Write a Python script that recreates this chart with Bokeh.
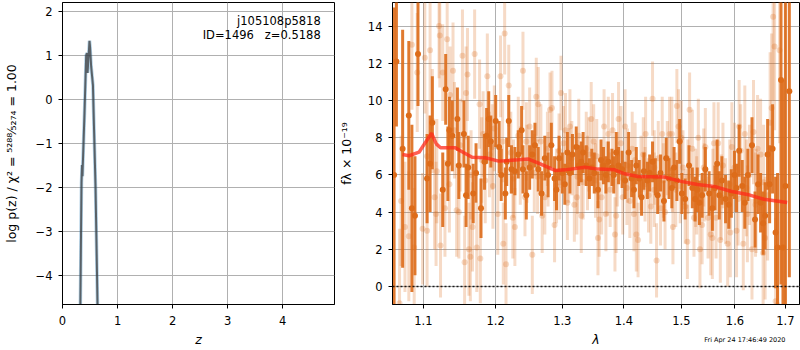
import numpy as np
from bokeh.plotting import figure
from bokeh.layouts import row
from bokeh.models import (ColumnDataSource, Range1d, FixedTicker, Label, LogAxis,
                          CustomJSTickFormatter, PrintfTickFormatter, Span)
from bokeh.embed import file_html
from bokeh.resources import INLINE

# ---------------- data ----------------
# p(z) panel
pz_z = [0.30, 0.345, 0.355, 0.362, 0.40, 0.430, 0.445, 0.455, 0.475, 0.490,
        0.500, 0.520, 0.553, 0.565, 0.600, 0.636, 0.660]
pz_logp = [-8.0, -1.9, -1.5, -1.75, -0.3, 1.0, 1.05, 0.6, 1.0, 1.33,
           1.2, 0.75, 0.32, -0.3, -2.0, -4.67, -6.5]

z_ticks = [0, 1, 2, 3, 4]
logp_ticks = [-4, -3, -2, -1, 0, 1, 2]

obj_name = "j105108p5818"
obj_info = "ID=1496\u00a0\u00a0\u00a0z=0.5188"
timestamp = "Fri Apr 24 17:46:49 2020"
timestamp_lam = [1.619]

# spectrum panel: binned spectrum (dark)
dark_lam = [1.062, 1.065, 1.073, 1.081, 1.085, 1.089, 1.093, 1.105, 1.109, 1.112,
            1.126, 1.130, 1.133, 1.135, 1.139, 1.146, 1.148, 1.155, 1.158, 1.161,
            1.168, 1.172, 1.179, 1.184, 1.187, 1.190, 1.193, 1.200, 1.205, 1.208,
            1.214, 1.216, 1.219, 1.223, 1.228, 1.233, 1.238, 1.240, 1.245, 1.250,
            1.254, 1.258, 1.263, 1.268, 1.273, 1.278, 1.283, 1.288, 1.291, 1.295,
            1.300, 1.304, 1.308, 1.312, 1.316, 1.322, 1.326, 1.330, 1.333, 1.338,
            1.343, 1.347, 1.351, 1.357, 1.362, 1.366, 1.370, 1.374, 1.380, 1.383,
            1.387, 1.391, 1.397, 1.402, 1.408, 1.413, 1.417, 1.421, 1.426, 1.430,
            1.434, 1.440, 1.444, 1.449, 1.454, 1.458, 1.463, 1.469, 1.473, 1.478,
            1.483, 1.487, 1.492, 1.497, 1.501, 1.507, 1.514, 1.520, 1.525, 1.529,
            1.533, 1.538, 1.544, 1.551, 1.557, 1.562, 1.566, 1.570, 1.575, 1.582,
            1.588, 1.593, 1.599, 1.603, 1.608, 1.614, 1.619, 1.625, 1.633, 1.639,
            1.645, 1.650, 1.655, 1.659, 1.664, 1.668, 1.674, 1.680, 1.684, 1.691,
            1.695, 1.700, 1.708]
dark_flux = [6.0, 12.1, 7.4, 9.2, 4.2, 3.8, 12.5, 5.8, 6.6, 8.8,
             5.2, 10.6, 6.6, 8.4, 8.1, 9.0, 6.5, 8.2, 4.9, 6.4,
             5.0, 6.1, 4.2, 6.7, 8.1, 9.0, 7.8, 8.9, 7.5, 6.0,
             5.0, 6.7, 8.9, 6.3, 6.2, 7.1, 8.4, 6.3, 4.9, 6.4,
             7.1, 7.6, 6.3, 5.0, 6.9, 6.0, 7.6, 5.8, 5.2, 6.9,
             6.1, 5.5, 7.2, 6.1, 7.1, 7.5, 6.5, 6.7, 7.2, 6.5,
             5.8, 6.4, 6.1, 5.2, 6.8, 6.5, 6.0, 6.7, 6.4, 6.0,
             7.2, 6.5, 6.3, 5.7, 7.2, 5.8, 5.2, 6.5, 5.8, 4.8,
             6.2, 5.7, 6.1, 6.7, 5.9, 4.9, 6.1, 4.6, 6.9, 5.8,
             5.3, 6.4, 5.7, 7.8, 5.0, 4.7, 6.5, 5.3, 4.7, 5.2,
             4.5, 4.9, 6.3, 5.0, 4.2, 5.3, 6.6, 4.9, 5.7, 4.7,
             4.4, 5.0, 6.0, 5.3, 7.3, 5.4, 4.5, 6.0, 7.6, 3.6,
             5.5, 4.5, 3.4, 3.8, 7.1, 5.5, 7.4, 2.9, 2.1, 11.1,
             2.1, 5.4, 10.5]
dark_err = [9.0, 3.5, 6.4, 4.0, 4.5, 3.2, 2.8, 2.4, 2.6, 2.5,
            2.0, 1.9, 2.0, 1.8, 1.9, 1.7, 1.8, 1.8, 1.7, 1.7,
            1.6, 1.6, 1.6, 1.5, 1.5, 1.5, 1.4, 1.4, 1.4, 1.4,
            1.4, 1.3, 1.4, 1.3, 1.3, 1.3, 1.3, 1.3, 1.3, 1.2,
            1.3, 1.2, 1.2, 1.2, 1.2, 1.2, 1.2, 1.2, 1.1, 1.2,
            1.1, 1.1, 1.1, 1.1, 1.1, 1.1, 1.1, 1.1, 1.1, 1.1,
            1.1, 1.0, 1.1, 1.0, 1.1, 1.0, 1.0, 1.1, 1.0, 1.0,
            1.1, 1.0, 1.0, 1.0, 1.1, 1.0, 1.0, 1.0, 1.0, 1.0,
            1.0, 1.0, 1.0, 1.1, 1.0, 1.0, 1.0, 1.1, 1.1, 1.1,
            1.1, 1.1, 1.1, 1.2, 1.1, 1.1, 1.1, 1.1, 1.2, 1.2,
            1.2, 1.2, 1.2, 1.2, 1.2, 1.2, 1.3, 1.3, 1.3, 1.3,
            1.3, 1.3, 1.3, 1.3, 1.4, 1.4, 1.4, 1.4, 1.5, 1.5,
            1.6, 1.6, 1.7, 1.8, 1.9, 2.1, 2.4, 3.0, 4.0, 11.0,
            9.0, 10.0, 10.0]

# individual (light) spectrum points
light_lam = [1.069, 1.071, 1.076, 1.081, 1.085, 1.088, 1.092, 1.099, 1.102, 1.105,
             1.109, 1.112, 1.115, 1.117, 1.121, 1.122, 1.123, 1.126, 1.129, 1.132,
             1.136, 1.140, 1.142, 1.145, 1.148, 1.153, 1.156, 1.158, 1.160, 1.162,
             1.164, 1.167, 1.170, 1.173, 1.177, 1.178, 1.182, 1.185, 1.188, 1.191,
             1.195, 1.198, 1.203, 1.207, 1.211, 1.213, 1.215, 1.219, 1.222, 1.225,
             1.228, 1.233, 1.236, 1.240, 1.243, 1.245, 1.250, 1.254, 1.257, 1.260,
             1.263, 1.267, 1.269, 1.273, 1.277, 1.281, 1.284, 1.288, 1.291, 1.295,
             1.298, 1.302, 1.305, 1.308, 1.312, 1.315, 1.319, 1.323, 1.326, 1.330,
             1.333, 1.338, 1.342, 1.346, 1.350, 1.353, 1.357, 1.359, 1.363, 1.367,
             1.370, 1.374, 1.377, 1.381, 1.385, 1.387, 1.391, 1.395, 1.398, 1.402,
             1.406, 1.410, 1.414, 1.417, 1.421, 1.424, 1.429, 1.433, 1.437, 1.442,
             1.446, 1.449, 1.452, 1.456, 1.459, 1.463, 1.466, 1.471, 1.475, 1.479,
             1.483, 1.485, 1.490, 1.492, 1.495, 1.500, 1.503, 1.507, 1.511, 1.515,
             1.520, 1.523, 1.526, 1.531, 1.534, 1.538, 1.541, 1.544, 1.549, 1.554,
             1.557, 1.560, 1.564, 1.568, 1.572, 1.577, 1.582, 1.586, 1.591, 1.594,
             1.599, 1.603, 1.608, 1.611, 1.616, 1.619, 1.624, 1.628, 1.633, 1.636,
             1.641, 1.644, 1.650, 1.655, 1.659, 1.664, 1.669, 1.672, 1.675, 1.678,
             1.680, 1.684, 1.688,
             1.105, 1.118, 1.135, 1.150, 1.165, 1.180, 1.196, 1.210, 1.226, 1.246,
             1.262, 1.278, 1.296, 1.310, 1.324, 1.340, 1.355, 1.372, 1.389, 1.405,
             1.419, 1.436, 1.452, 1.468, 1.484, 1.498, 1.512, 1.528, 1.542, 1.558,
             1.574, 1.590, 1.606, 1.622, 1.640, 1.656]
light_flux = [-0.9, 4.6, 3.2, 2.7, 13.0, 2.1, 11.5, 3.1, 12.3, 3.0,
              12.7, 8.9, 4.8, 3.9, 14.0, 13.5, 2.2, 11.5, 4.2, 13.3,
              10.3, 11.6, 8.4, 4.1, 4.0, 12.4, 1.3, 10.4, 11.4, 2.0,
              1.6, 3.2, 12.5, 2.1, 9.8, 1.5, 8.2, 5.7, 11.3, 7.1,
              7.5, 8.5, 3.9, 11.3, 2.3, 13.6, 1.2, 10.8, 7.2, 3.7,
              3.2, 8.1, 6.5, 11.6, 4.8, 7.8, 8.6, 1.7, 6.1, 10.2,
              9.8, 7.8, 3.8, 4.8, 7.4, 9.5, 9.6, 3.3, 5.4, 7.3,
              10.4, 7.7, 8.4, 4.5, 8.6, 6.9, 4.4, 4.8, 8.1, 3.8,
              5.6, 7.4, 7.1, 9.0, 7.8, 5.7, 2.6, 3.6, 4.8, 8.6,
              3.9, 8.2, 5.2, 8.4, 2.8, 3.8, 9.0, 7.7, 4.8, 8.6,
              6.5, 4.6, 7.4, 3.9, 2.8, 2.5, 6.1, 7.1, 8.2, 4.9,
              4.3, 10.1, 5.2, 1.4, 6.9, 4.2, 8.2, 4.0, 6.9, 8.2,
              8.2, 3.2, 5.2, 9.7, 8.6, 8.0, 6.4, 4.3, 2.4, 9.5,
              7.4, 3.7, 5.3, 8.0, 2.0, 3.3, 6.4, 7.5, 3.7, 2.8,
              2.6, 7.7, 3.7, 7.7, 2.5, 6.5, 4.6, 2.3, 2.9, 7.5,
              6.4, 3.0, 8.6, 7.3, 2.3, 8.2, 3.9, 6.0, 2.0, 8.3,
              4.6, 7.4, 7.1, 1.8, 2.6, 4.9, 8.8, 9.6, 14.5, 12.9,
              -0.8, -1.0, 12.7,
              7.0, 6.2, 5.5, 7.6, 6.0, 6.8, 5.4, 7.8, 5.8, 6.6,
              5.9, 6.3, 5.6, 6.5, 5.9, 6.1, 7.0, 5.8, 6.3, 5.3,
              6.8, 5.5, 6.4, 5.7, 6.0, 5.4, 5.9, 4.9, 5.6, 5.2,
              4.8, 5.5, 4.7, 5.3, 4.4, 5.6]
light_err = [4.0, 3.5, 3.5, 3.5, 3.5, 3.2, 3.2, 3.0, 3.0, 3.0,
             2.8, 2.8, 2.8, 2.8, 2.8, 2.8, 2.8, 2.6, 2.6, 2.6,
             2.6, 2.6, 2.6, 2.5, 2.5, 2.5, 2.5, 2.5, 2.5, 2.5,
             2.4, 2.4, 2.4, 2.4, 2.4, 2.4, 2.3, 2.3, 2.3, 2.3,
             2.3, 2.3, 2.2, 2.2, 2.2, 2.2, 2.2, 2.2, 2.2, 2.2,
             2.1, 2.1, 2.1, 2.1, 2.1, 2.1, 2.1, 2.1, 2.1, 2.1,
             2.0, 2.0, 2.0, 2.0, 2.0, 2.0, 2.0, 2.0, 2.0, 2.0,
             2.0, 2.0, 2.0, 2.0, 2.0, 2.0, 2.0, 2.0, 2.0, 2.0,
             2.0, 2.0, 2.0, 2.0, 2.0, 2.0, 2.0, 2.0, 2.0, 2.0,
             2.0, 2.0, 2.0, 2.0, 2.0, 2.0, 2.0, 2.0, 2.0, 2.0,
             2.0, 2.0, 2.0, 2.0, 2.0, 2.0, 2.0, 2.0, 2.0, 2.0,
             2.0, 2.0, 2.0, 2.0, 2.0, 2.0, 2.0, 2.0, 2.0, 2.0,
             2.0, 2.0, 2.0, 2.0, 2.0, 2.0, 2.0, 2.0, 2.0, 2.0,
             2.1, 2.1, 2.1, 2.1, 2.1, 2.1, 2.1, 2.1, 2.2, 2.2,
             2.2, 2.2, 2.2, 2.2, 2.3, 2.3, 2.3, 2.3, 2.4, 2.4,
             2.4, 2.5, 2.5, 2.5, 2.5, 2.6, 2.6, 2.7, 2.7, 2.8,
             2.8, 2.9, 3.0, 3.1, 3.3, 3.5, 3.8, 4.0, 4.5, 4.5,
             4.5, 5.0, 5.0,
             3.0, 2.8, 2.6, 2.5, 2.4, 2.3, 2.3, 2.2, 2.1, 2.1,
             2.0, 2.0, 2.0, 2.0, 2.0, 2.0, 2.0, 2.0, 2.0, 2.0,
             2.0, 2.0, 2.0, 2.0, 2.0, 2.0, 2.0, 2.1, 2.1, 2.2,
             2.3, 2.4, 2.5, 2.6, 2.8, 3.1]

# best-fit model
model_lam = [1.0727, 1.0813, 1.0944, 1.103, 1.111, 1.1172, 1.123, 1.1433, 1.150, 1.1664,
             1.1851, 1.2043, 1.2334, 1.2482, 1.2633, 1.2887, 1.3041, 1.3357, 1.3573, 1.3846,
             1.4012, 1.4239, 1.4697, 1.4994, 1.5297, 1.5603, 1.5918, 1.6240, 1.6566, 1.7036]
model_flux = [7.1, 7.03, 7.22, 7.76, 8.24, 7.67, 7.46, 7.46, 7.3, 6.95,
              6.92, 6.74, 6.81, 6.85, 6.63, 6.24, 6.27, 6.41, 6.31, 6.27,
              6.06, 5.91, 5.88, 5.65, 5.48, 5.38, 5.12, 4.95, 4.69, 4.52]

lam_ticks = [1.1, 1.2, 1.3, 1.4, 1.5, 1.6, 1.7]
flux_ticks = [0, 2, 4, 6, 8, 10, 12, 14]

# ---------------- styling ----------------
FONT = "DejaVu Sans"
FS = "11.5px"
ORANGE = "#dd6c1a"
GRID = "#b0b0b0"

minus_fmt = CustomJSTickFormatter(
    code="return (tick < 0 ? '\u2212' : '') + Math.abs(tick).toString();")


def style(p):
    p.outline_line_color = "black"
    p.outline_line_alpha = 1.0
    p.outline_line_width = 1
    p.grid.grid_line_color = GRID
    p.grid.grid_line_width = 1
    p.background_fill_color = "white"
    p.border_fill_color = "white"
    for ax in (p.xaxis, p.yaxis):
        ax.axis_line_color = "black"
        ax.major_tick_line_color = "black"
        ax.major_tick_out = 4
        ax.major_tick_in = 0
        ax.minor_tick_line_color = None
        ax.major_label_text_font = FONT
        ax.major_label_text_font_size = FS
        ax.major_label_text_color = "black"
        ax.axis_label_text_font = FONT
        ax.axis_label_text_font_size = "12.5px"
        ax.axis_label_text_color = "black"
    p.xaxis.major_label_standoff = 7
    p.xaxis.axis_label_standoff = 4
    p.yaxis.major_label_standoff = 6


H = 350

# ---------------- left panel: p(z) ----------------
p1 = figure(width=335, height=H, x_range=Range1d(0, 4.94), y_range=Range1d(-4.67, 2.2),
            output_backend="svg", toolbar_location=None,
            min_border_left=62, min_border_right=1, min_border_top=2, min_border_bottom=46)
style(p1)
p1.xaxis.ticker = FixedTicker(ticks=z_ticks)
p1.yaxis.ticker = FixedTicker(ticks=logp_ticks)
p1.xaxis.formatter = minus_fmt
p1.yaxis.formatter = minus_fmt
p1.xaxis.axis_label = "z"
p1.xaxis.axis_label_text_font_style = "italic"
p1.yaxis.axis_label = "log p(z) / χ² = ⁵²⁸⁸⁄₅₂₇₄ = 1.00"
p1.yaxis.axis_label_text_font_style = "normal"
p1.yaxis.axis_label_standoff = 14

pz_src = ColumnDataSource(data=dict(z=pz_z, logp=pz_logp))
p1.line("z", "logp", source=pz_src, line_color="#1f77b4", line_alpha=0.35, line_width=3.5)
p1.line("z", "logp", source=pz_src, line_color="#3c3c3c", line_alpha=0.75, line_width=2)

p1.add_layout(Label(x=4.69, y=1.79, text=obj_name, text_align="right", text_baseline="middle",
                    text_font=FONT, text_font_size=FS, text_color="black"))
p1.add_layout(Label(x=4.69, y=1.47, text=obj_info, text_align="right", text_baseline="middle",
                    text_font=FONT, text_font_size=FS, text_color="black"))

# ---------------- right panel: spectrum ----------------
p2 = figure(width=465, height=H, x_axis_type="log",
            x_range=Range1d(1.06, 1.729), y_range=Range1d(-0.97, 15.27),
            output_backend="svg", toolbar_location=None,
            min_border_left=55, min_border_right=1, min_border_top=2, min_border_bottom=46)
style(p2)
p2.xaxis.ticker = FixedTicker(ticks=lam_ticks)
p2.xaxis.formatter = PrintfTickFormatter(format="%.1f")
p2.xaxis.axis_label = "λ"
p2.xaxis.axis_label_text_font_style = "italic"
p2.yaxis.ticker = FixedTicker(ticks=flux_ticks)
p2.yaxis.formatter = minus_fmt
p2.yaxis.axis_label = "fλ × 10⁻¹⁹"
p2.yaxis.axis_label_text_font_style = "normal"
p2.yaxis.axis_label_standoff = 11

# second bottom axis: only carries the timestamp as its single tick label,
# pulled up into the row of the λ label
stamp_axis = LogAxis(ticker=FixedTicker(ticks=timestamp_lam),
                     formatter=CustomJSTickFormatter(args=dict(txt=timestamp), code="return txt;"),
                     axis_line_color=None, major_tick_line_color=None, minor_tick_line_color=None,
                     major_tick_out=0, major_tick_in=0, major_label_standoff=-14,
                     major_label_text_font=FONT, major_label_text_font_size="6.5px",
                     major_label_text_color="black")
p2.add_layout(stamp_axis, "below")

la = np.array(light_lam)
lf = np.array(light_flux)
le = np.array(light_err)
light_src = ColumnDataSource(data=dict(lam=la, flux=lf, lo=lf - le, hi=lf + le))
da = np.array(dark_lam)
df = np.array(dark_flux)
de = np.array(dark_err)
dark_src = ColumnDataSource(data=dict(lam=da, flux=df, lo=df - de, hi=df + de))

p2.segment(x0="lam", y0="lo", x1="lam", y1="hi", source=light_src,
           line_color=ORANGE, line_alpha=0.25, line_width=3)
p2.scatter("lam", "flux", source=light_src, size=6, fill_color=ORANGE, fill_alpha=0.25,
           line_color=None)
p2.segment(x0="lam", y0="lo", x1="lam", y1="hi", source=dark_src,
           line_color=ORANGE, line_alpha=0.9, line_width=3)
p2.scatter("lam", "flux", source=dark_src, size=6, fill_color=ORANGE, fill_alpha=1.0,
           line_color=None)
p2.line(model_lam, model_flux, line_color="#ff2a1a", line_alpha=0.75, line_width=3.5)
p2.add_layout(Span(location=0, dimension="width", line_color="black", line_alpha=0.85,
                   line_width=1.5, line_dash="2 2"))

layout = row(p1, p2, spacing=0)
open("out.html", "w").write(file_html(layout, INLINE))
